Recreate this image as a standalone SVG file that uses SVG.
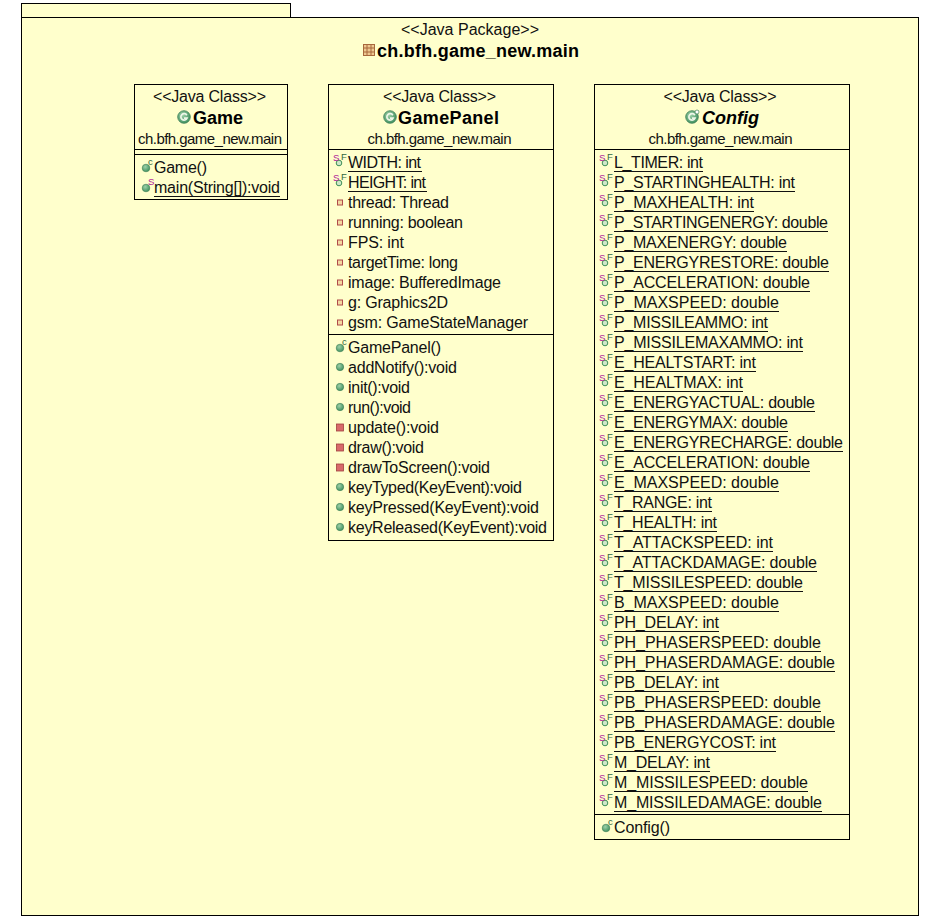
<svg xmlns="http://www.w3.org/2000/svg" width="931" height="924" viewBox="0 0 931 924">
<style>
.box{fill:#ffffcc;stroke:#000;stroke-width:1}
.sep{stroke:#000;stroke-width:1;fill:none}
text{font-family:"Liberation Sans",Arial,sans-serif;font-size:16px;fill:#111}
.c{text-anchor:middle}
.pk{font-size:15px}
.st{font-size:16px}
.t{font-size:18px;font-weight:bold;fill:#000}
.u{stroke:#111;stroke-width:1}
.tiny{font-size:9.5px}
.sm{fill:#b0209a}
.fn{fill:#2f6a40}
</style>
<defs>
<radialGradient id="g" cx="40%" cy="35%" r="70%"><stop offset="0" stop-color="#9ed0a8"/><stop offset="1" stop-color="#3c8f5c"/></radialGradient>
<g id="pub"><circle cx="0" cy="0" r="3.7" fill="url(#g)" stroke="#3f7f58" stroke-width=".6"/></g>
<g id="pri"><rect x="-3.5" y="-3.5" width="7" height="7" fill="#d86a6a" stroke="#a04040" stroke-width=".8"/></g>
<g id="prif"><rect x="-2.5" y="-2.5" width="5" height="5" fill="#f4d8a0" stroke="#b04a4a" stroke-width="1"/></g>
<g id="cons"><circle cx="0" cy="1" r="3.8" fill="url(#g)" stroke="#3f7f58" stroke-width=".6"/><text x="2" y="-2.500" class="tiny fn">c</text></g>
<g id="stat"><circle cx="0" cy="1" r="3.8" fill="url(#g)" stroke="#3f7f58" stroke-width=".6"/><text x="2" y="-2.500" class="tiny sm">S</text></g>
<g id="sf"><circle cx="1" cy="0" r="2.8" fill="#cfe8c8" stroke="#3f8f58" stroke-width="1"/><text x="-5" y="-2" class="tiny sm">S</text><text x="3" y="-3" class="tiny fn">F</text></g>
<g id="cls"><circle cx="0" cy="0" r="6.3" fill="url(#g)" stroke="#3f7f58" stroke-width=".8"/><path d="M2.8-1.8A3.2 3.2 0 1 0 3 1.2H0" fill="none" stroke="#eef6e8" stroke-width="1.7"/></g>
<g id="pkgi"><rect x="-5.5" y="-5.5" width="11" height="11" fill="#eec890" stroke="#a8683c" stroke-width="1"/><path d="M-2-5.5V5.500M2-5.500V5.500M-5.500-2H5.500M-5.500 2H5.500" stroke="#a8683c" stroke-width="1"/></g>
</defs>
<rect width="931" height="924" fill="#fff"/>
<g id="package">
<rect class="box" x="21.5" y="3.5" width="269" height="14"/>
<rect class="box" x="21.5" y="17.5" width="897" height="898"/>
<text class="c st" x="470" y="35" textLength="138">&lt;&lt;Java Package&gt;&gt;</text>
<use href="#pkgi" x="369" y="50"/>
<text class="t" x="377" y="57" textLength="202">ch.bfh.game_new.main</text>
</g>
<g id="Game">
<rect class="box" x="134.5" y="84.5" width="153" height="115"/>
<path class="sep" d="M134.5 149.5H287.5M134.5 154.5H287.5"/>
<text class="c st" x="209.500" y="102" textLength="113">&lt;&lt;Java Class&gt;&gt;</text>
<use href="#cls" x="184" y="117"/>
<text class="t" x="193" y="124" textLength="50">Game</text>
<text class="c pk" x="210" y="144" textLength="144">ch.bfh.game_new.main</text>
<use href="#cons" x="146" y="167"/><text x="154" y="173" textLength="53">Game()</text>
<use href="#stat" x="146" y="187"/><text x="154" y="193" textLength="126">main(String[]):void</text><path class="u" d="M154 196.500H280"/>
</g>
<g id="GamePanel">
<rect class="box" x="328.5" y="84.5" width="225" height="456"/>
<path class="sep" d="M328.5 149.5H553.5M328.5 334.5H553.5"/>
<text class="c st" x="439.500" y="102" textLength="113">&lt;&lt;Java Class&gt;&gt;</text>
<use href="#cls" x="390" y="117"/>
<text class="t" x="398" y="124" textLength="101">GamePanel</text>
<text class="c pk" x="439.500" y="144" textLength="144">ch.bfh.game_new.main</text>
<use href="#sf" x="338" y="163"/><text x="348" y="168" textLength="73">WIDTH: int</text><path class="u" d="M348 171.500H422"/>
<use href="#sf" x="338" y="183"/><text x="348" y="188" textLength="78">HEIGHT: int</text><path class="u" d="M348 191.500H427"/>
<use href="#prif" x="340" y="202.500"/><text x="348" y="208" textLength="101">thread: Thread</text>
<use href="#prif" x="340" y="222.500"/><text x="348" y="228" textLength="115">running: boolean</text>
<use href="#prif" x="340" y="242.500"/><text x="348" y="248" textLength="56">FPS: int</text>
<use href="#prif" x="340" y="262.500"/><text x="348" y="268" textLength="110">targetTime: long</text>
<use href="#prif" x="340" y="282.500"/><text x="348" y="288" textLength="153">image: BufferedImage</text>
<use href="#prif" x="340" y="302.500"/><text x="348" y="308" textLength="100">g: Graphics2D</text>
<use href="#prif" x="340" y="322.500"/><text x="348" y="328" textLength="180">gsm: GameStateManager</text>
<use href="#cons" x="340" y="347"/><text x="348" y="353" textLength="93">GamePanel()</text>
<use href="#pub" x="340" y="367"/><text x="348" y="373" textLength="109">addNotify():void</text>
<use href="#pub" x="340" y="387"/><text x="348" y="393" textLength="62">init():void</text>
<use href="#pub" x="340" y="407"/><text x="348" y="413" textLength="63">run():void</text>
<use href="#pri" x="340" y="427.500"/><text x="348" y="433" textLength="91">update():void</text>
<use href="#pri" x="340" y="447.500"/><text x="348" y="453" textLength="76">draw():void</text>
<use href="#pri" x="340" y="467.500"/><text x="348" y="473" textLength="142">drawToScreen():void</text>
<use href="#pub" x="340" y="487"/><text x="348" y="493" textLength="174">keyTyped(KeyEvent):void</text>
<use href="#pub" x="340" y="507"/><text x="348" y="513" textLength="191">keyPressed(KeyEvent):void</text>
<use href="#pub" x="340" y="527"/><text x="348" y="533" textLength="199">keyReleased(KeyEvent):void</text>
</g>
<g id="Config">
<rect class="box" x="594.5" y="84.5" width="255" height="755"/>
<path class="sep" d="M594.5 149.5H849.5M594.5 814.5H849.5"/>
<text class="c st" x="720" y="102" textLength="113">&lt;&lt;Java Class&gt;&gt;</text>
<use href="#cls" x="692" y="117"/>
<circle cx="697" cy="112" r="2" fill="#fff" stroke="#3f7f58" stroke-width=".7"/>
<text class="t" x="702" y="124" textLength="57" style="font-style:italic">Config</text>
<text class="c pk" x="720.500" y="144" textLength="144">ch.bfh.game_new.main</text>
<use href="#sf" x="604" y="163"/><text x="614" y="168" textLength="89">L_TIMER: int</text><path class="u" d="M614 171.500H703"/>
<use href="#sf" x="604" y="183"/><text x="614" y="188" textLength="181">P_STARTINGHEALTH: int</text><path class="u" d="M614 191.500H795"/>
<use href="#sf" x="604" y="203"/><text x="614" y="208" textLength="140">P_MAXHEALTH: int</text><path class="u" d="M614 211.500H754"/>
<use href="#sf" x="604" y="223"/><text x="614" y="228" textLength="214">P_STARTINGENERGY: double</text><path class="u" d="M614 231.500H828"/>
<use href="#sf" x="604" y="243"/><text x="614" y="248" textLength="173">P_MAXENERGY: double</text><path class="u" d="M614 251.500H787"/>
<use href="#sf" x="604" y="263"/><text x="614" y="268" textLength="215">P_ENERGYRESTORE: double</text><path class="u" d="M614 271.500H829"/>
<use href="#sf" x="604" y="283"/><text x="614" y="288" textLength="196">P_ACCELERATION: double</text><path class="u" d="M614 291.500H810"/>
<use href="#sf" x="604" y="303"/><text x="614" y="308" textLength="165">P_MAXSPEED: double</text><path class="u" d="M614 311.500H779"/>
<use href="#sf" x="604" y="323"/><text x="614" y="328" textLength="154">P_MISSILEAMMO: int</text><path class="u" d="M614 331.500H768"/>
<use href="#sf" x="604" y="343"/><text x="614" y="348" textLength="189">P_MISSILEMAXAMMO: int</text><path class="u" d="M614 351.500H803"/>
<use href="#sf" x="604" y="363"/><text x="614" y="368" textLength="142">E_HEALTSTART: int</text><path class="u" d="M614 371.500H756"/>
<use href="#sf" x="604" y="383"/><text x="614" y="388" textLength="129">E_HEALTMAX: int</text><path class="u" d="M614 391.500H743"/>
<use href="#sf" x="604" y="403"/><text x="614" y="408" textLength="201">E_ENERGYACTUAL: double</text><path class="u" d="M614 411.500H815"/>
<use href="#sf" x="604" y="423"/><text x="614" y="428" textLength="174">E_ENERGYMAX: double</text><path class="u" d="M614 431.500H788"/>
<use href="#sf" x="604" y="443"/><text x="614" y="448" textLength="229">E_ENERGYRECHARGE: double</text><path class="u" d="M614 451.500H843"/>
<use href="#sf" x="604" y="463"/><text x="614" y="468" textLength="196">E_ACCELERATION: double</text><path class="u" d="M614 471.500H810"/>
<use href="#sf" x="604" y="483"/><text x="614" y="488" textLength="165">E_MAXSPEED: double</text><path class="u" d="M614 491.500H779"/>
<use href="#sf" x="604" y="503"/><text x="614" y="508" textLength="98">T_RANGE: int</text><path class="u" d="M614 511.500H712"/>
<use href="#sf" x="604" y="523"/><text x="614" y="528" textLength="103">T_HEALTH: int</text><path class="u" d="M614 531.500H717"/>
<use href="#sf" x="604" y="543"/><text x="614" y="548" textLength="159">T_ATTACKSPEED: int</text><path class="u" d="M614 551.500H773"/>
<use href="#sf" x="604" y="563"/><text x="614" y="568" textLength="203">T_ATTACKDAMAGE: double</text><path class="u" d="M614 571.500H817"/>
<use href="#sf" x="604" y="583"/><text x="614" y="588" textLength="189">T_MISSILESPEED: double</text><path class="u" d="M614 591.500H803"/>
<use href="#sf" x="604" y="603"/><text x="614" y="608" textLength="165">B_MAXSPEED: double</text><path class="u" d="M614 611.500H779"/>
<use href="#sf" x="604" y="623"/><text x="614" y="628" textLength="105">PH_DELAY: int</text><path class="u" d="M614 631.500H719"/>
<use href="#sf" x="604" y="643"/><text x="614" y="648" textLength="207">PH_PHASERSPEED: double</text><path class="u" d="M614 651.500H821"/>
<use href="#sf" x="604" y="663"/><text x="614" y="668" textLength="221">PH_PHASERDAMAGE: double</text><path class="u" d="M614 671.500H835"/>
<use href="#sf" x="604" y="683"/><text x="614" y="688" textLength="105">PB_DELAY: int</text><path class="u" d="M614 691.500H719"/>
<use href="#sf" x="604" y="703"/><text x="614" y="708" textLength="207">PB_PHASERSPEED: double</text><path class="u" d="M614 711.500H821"/>
<use href="#sf" x="604" y="723"/><text x="614" y="728" textLength="221">PB_PHASERDAMAGE: double</text><path class="u" d="M614 731.500H835"/>
<use href="#sf" x="604" y="743"/><text x="614" y="748" textLength="162">PB_ENERGYCOST: int</text><path class="u" d="M614 751.500H776"/>
<use href="#sf" x="604" y="763"/><text x="614" y="768" textLength="96">M_DELAY: int</text><path class="u" d="M614 771.500H710"/>
<use href="#sf" x="604" y="783"/><text x="614" y="788" textLength="194">M_MISSILESPEED: double</text><path class="u" d="M614 791.500H808"/>
<use href="#sf" x="604" y="803"/><text x="614" y="808" textLength="208">M_MISSILEDAMAGE: double</text><path class="u" d="M614 811.500H822"/>
<use href="#cons" x="606" y="827"/><text x="614" y="833" textLength="56">Config()</text>
</g>
<g id="connectors"/>
</svg>
